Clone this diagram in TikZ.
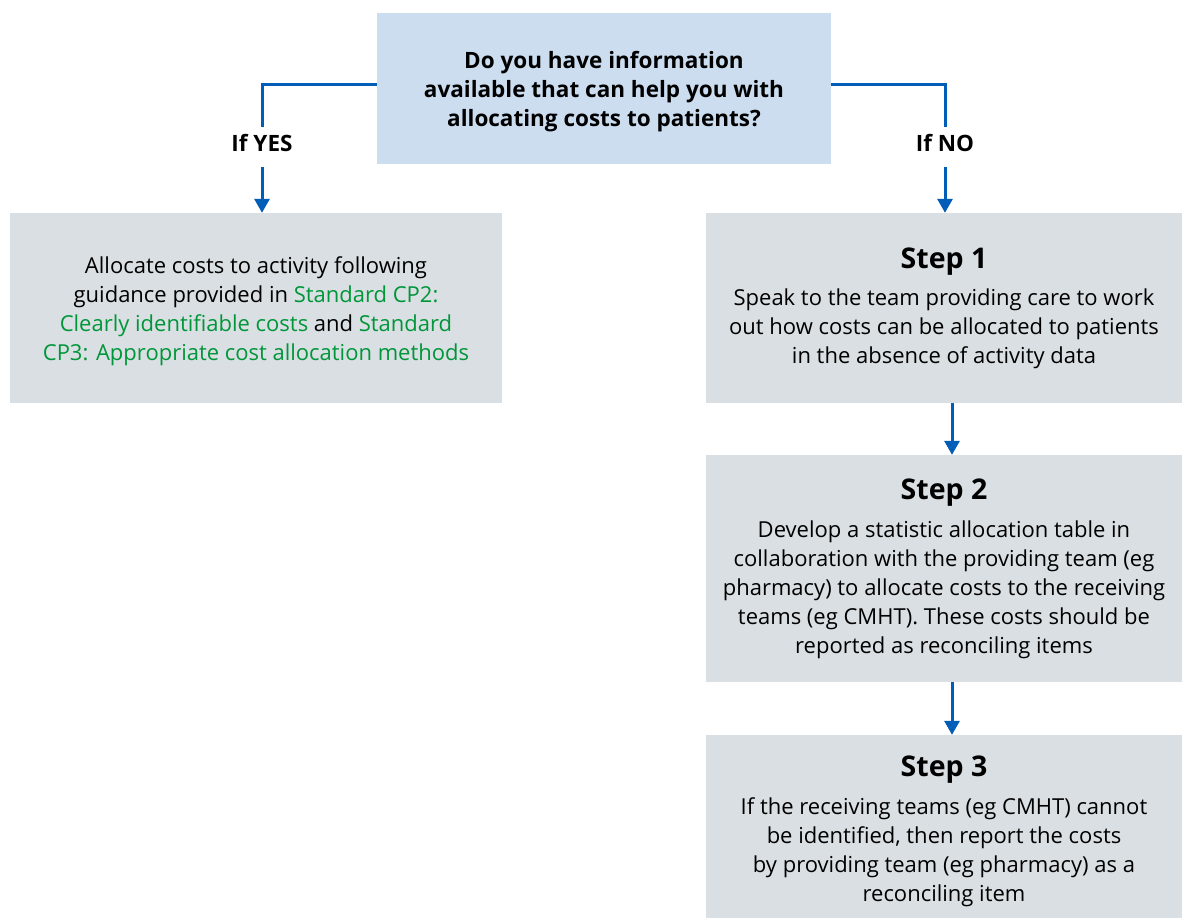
\documentclass[tikz,border=0pt]{standalone}
\usepackage{fontspec}
\setmainfont{Open Sans}
\usetikzlibrary{arrows.meta}
\definecolor{qblue}{HTML}{CCDDF0}
\definecolor{boxgrey}{HTML}{D9DFE2}
\definecolor{linkblue}{HTML}{005EB8}
\definecolor{refgreen}{HTML}{009639}
\tikzset{
  question/.style={fill=qblue, inner sep=0pt, minimum width=454pt, minimum height=151pt,
    align=center, font=\fontsize{22.5}{29}\selectfont\bfseries},
  greybox/.style={fill=boxgrey, inner sep=0pt, align=center,
    font=\fontsize{22}{29}\selectfont},
  answer/.style={inner sep=0pt, minimum height=32pt, font=\fontsize{22.5}{29}\selectfont\bfseries},
  flowline/.style={draw=linkblue, line width=3pt},
  flowarrow/.style={flowline, -{Triangle[length=14pt,width=15pt]}}
}
\newcommand{\stdref}[1]{\textcolor{refgreen}{#1}}
\newcommand{\stephead}[1]{{\fontsize{28.5}{34}\selectfont\bfseries #1}}
% invisible strut that lowers the first line a little
\newcommand{\toplift}[1]{\rule{0pt}{#1}}
\begin{document}
\begin{tikzpicture}[x=1pt,y=-1pt]
\useasboundingbox (0,0) rectangle (1184,918);

% question
\node[question] (q) at (604,88.5) {\toplift{24pt}Do you have information\\available that can help you with\\allocating costs to patients?};

% branch labels
\node[answer] (yes) at (262,143) {If YES};
\node[answer] (no) at (945,143) {If NO};

% left outcome
\node[greybox, minimum width=492pt, minimum height=190pt] (alloc) at (256,308)
  {\toplift{24pt}Allocate costs to activity following\\guidance provided in \stdref{Standard CP2:}\\\stdref{Clearly identifiable costs} and \stdref{Standard}\\\stdref{CP3: Appropriate cost allocation methods}};

% steps
\node[greybox, minimum width=476pt, minimum height=190pt] (s1) at (944,308)
  {\stephead{Step 1}\\[8pt]Speak to the team providing care to work\\out how costs can be allocated to patients\\in the absence of activity data};
\node[greybox, minimum width=476pt, minimum height=227pt] (s2) at (944,568.5)
  {\stephead{Step 2}\\[9pt]Develop a statistic allocation table in\\collaboration with the providing team (eg\\pharmacy) to allocate costs to the receiving\\teams (eg CMHT). These costs should be\\reported as reconciling items};
\node[greybox, minimum width=476pt, minimum height=183pt] (s3) at (944,826.5)
  {\stephead{\toplift{30pt}Step 3}\\[9pt]If the receiving teams (eg CMHT) cannot\\be identified, then report the costs\\by providing team (eg pharmacy) as a\\reconciling item};

% connectors
\draw[flowline] ([yshift=4.5pt]q.west) -| (yes.north);
\draw[flowarrow, shorten <=8pt] (yes.south) -- (alloc.north -| yes.south);
\draw[flowline] ([yshift=4.5pt]q.east) -| (no.north);
\draw[flowarrow, shorten <=8pt] (no.south) -- (s1.north -| no.south);
\draw[flowarrow] ([xshift=8pt]s1.south) -- ([xshift=8pt]s2.north);
\draw[flowarrow] ([xshift=8pt]s2.south) -- ([xshift=8pt]s3.north);
\end{tikzpicture}
\end{document}
